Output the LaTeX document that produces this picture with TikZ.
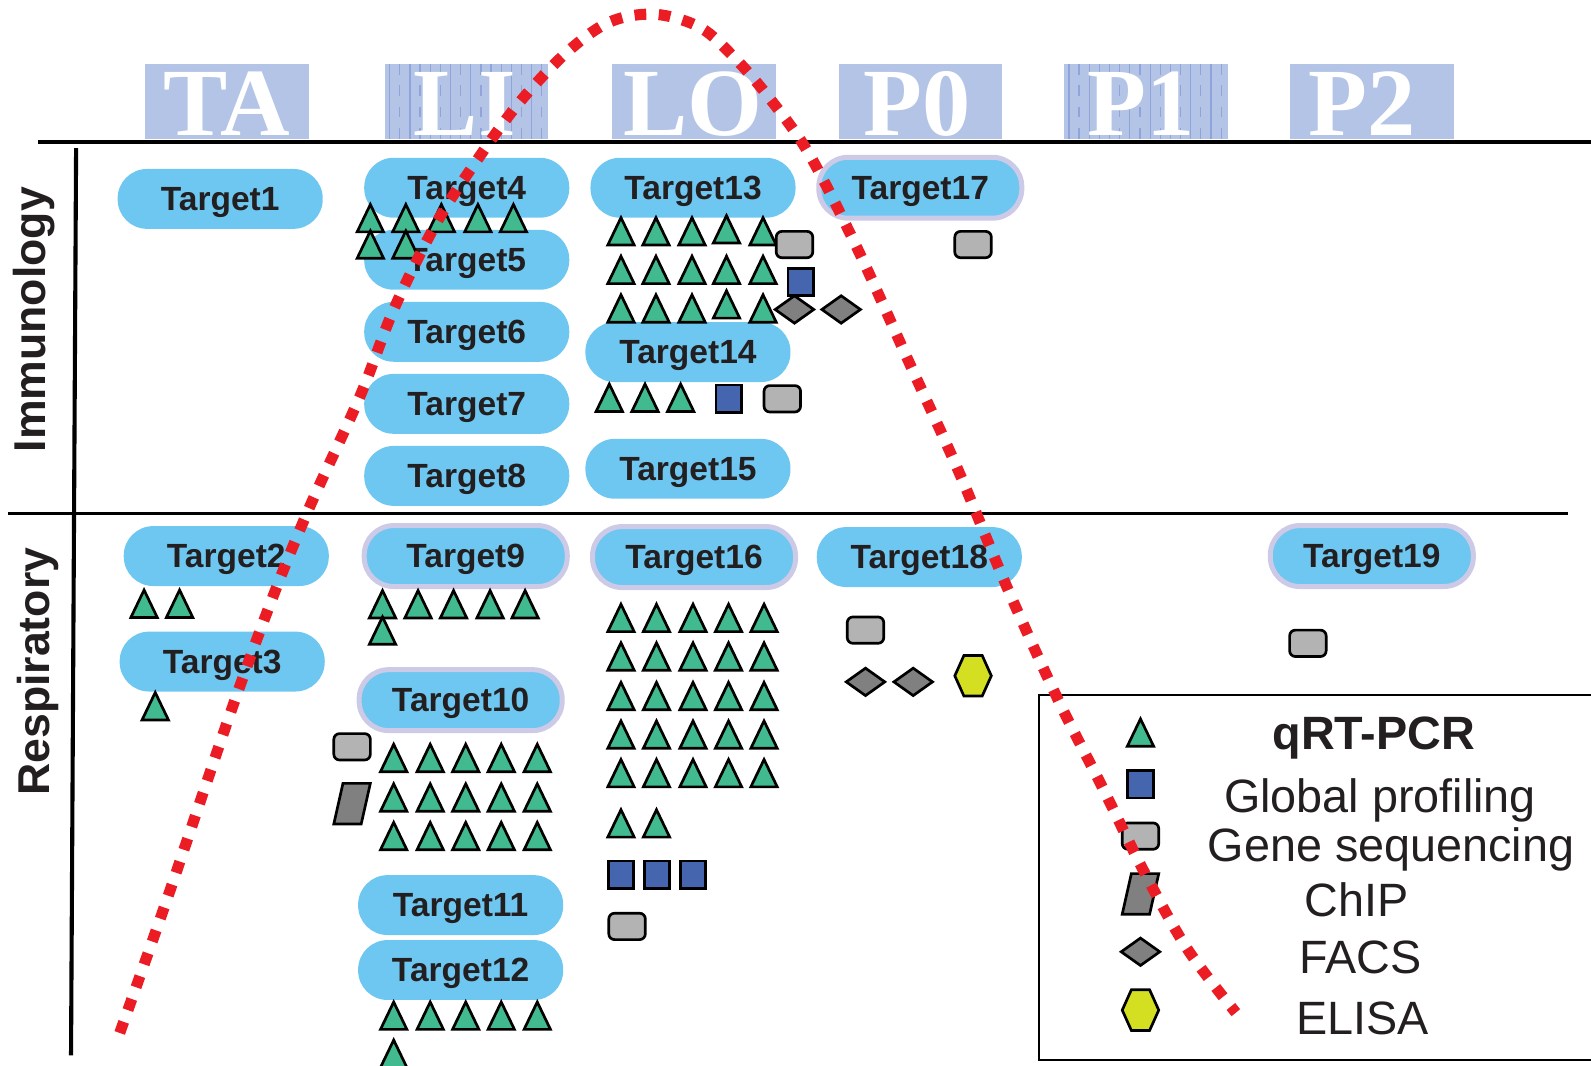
\documentclass[tikz,border=0pt]{standalone}
\usepackage{fontspec}
\setmainfont{Liberation Sans}
\newfontfamily\hdrfont{Liberation Serif}
\definecolor{pillblue}{HTML}{6EC7F0}
\definecolor{pillring}{HTML}{CCCAE6}
\definecolor{hdrblue}{HTML}{B3C4E6}
\definecolor{stripecol}{HTML}{8EA4DA}
\definecolor{txtcol}{HTML}{231F20}
\definecolor{trigreen}{HTML}{41BA8F}
\definecolor{sqblue}{HTML}{4565AF}
\definecolor{seqgray}{HTML}{B3B3B3}
\definecolor{facsgray}{HTML}{808080}
\definecolor{hexyellow}{HTML}{D4DF21}
\definecolor{curvered}{HTML}{EC1C24}
\tikzset{
  pill/.style={rectangle, rounded corners=2.9mm, fill=pillblue, minimum width=2.02cm,
    minimum height=0.59cm, inner sep=0pt, text depth=0pt, text=txtcol, font=\fontsize{9.4}{10}\selectfont\bfseries},
  ringpill/.style={pill, draw=pillring, line width=1.4pt, minimum width=2.0cm, minimum height=0.60cm},
  hdrbox/.style={rectangle, fill=hdrblue, minimum width=1.61cm, minimum height=0.74cm, inner sep=0pt},
  hdrtxt/.style={text=white, inner sep=0pt, font=\hdrfont\bfseries\fontsize{27}{27}\selectfont},
  axislab/.style={rotate=90, anchor=base, inner sep=0pt, text=txtcol, font=\fontsize{12.5}{13}\selectfont\bfseries},
  legtxt/.style={anchor=base, inner sep=0pt, text=txtcol, font=\fontsize{13.1}{14}\selectfont},
  stripeline/.style={draw=stripecol, line width=0.35pt},
  mk/.style={draw=black, line width=0.75pt, line join=miter},
  pics/tri/.style={code={\path[mk, fill=trigreen] (-13,13.5) -- (13,13.5) -- (0,-13.5) -- cycle;}},
  pics/glob/.style={code={\path[mk, fill=sqblue] (-12.5,-13.5) rectangle (12.5,13.5);}},
  pics/seq/.style={code={\path[mk, fill=seqgray, rounded corners=1.6pt] (-18,-13) rectangle (18,13);}},
  pics/facs/.style={code={\path[mk, fill=facsgray] (-19,0) -- (0,-13.5) -- (19,0) -- (0,13.5) -- cycle;}},
  pics/chip/.style={code={\path[mk, fill=facsgray] (-9,-20) -- (18,-20) -- (9,20) -- (-18,20) -- cycle;}},
  pics/elisa/.style={code={\path[mk, fill=hexyellow] (-18,0) -- (-9,-20) -- (9,-20) -- (18,0) -- (9,20) -- (-9,20) -- cycle;}},
  curve/.style={draw=curvered, line width=3.1pt, line cap=butt, dash pattern=on 3.3pt off 3.5pt}
}
\begin{document}
\begin{tikzpicture}[x=0.01cm, y=-0.01cm]
\useasboundingbox (0,0) rectangle (1568,1050);
\clip (0,0) rectangle (1568,1050);

% header boxes
\foreach \n/\cx in {hTA/223.5, hLI/460, hLO/684, hPZ/907, hPO/1129.5, hPT/1352}
  \node[hdrbox] (\n) at (\cx,100) {};
\foreach \cx in {460,1129.5}{
  \foreach \i in {0,2,...,14} \draw[stripeline] (\cx-76+\i*10,63) -- (\cx-76+\i*10,137);
  \foreach \i in {1,3,...,15} \draw[stripeline, dashed] (\cx-76+\i*10,63) -- (\cx-76+\i*10,137);
}
\foreach \n/\cx/\lab in {hTA/223.5/TA, hLI/458/LI, hLO/683/LO, hPZ/904/P0, hPO/1125/P1, hPT/1342/P2}
  \node[hdrtxt, anchor=base] (\n-t) at (\cx,134) {\lab};

% axes
\coordinate (topL) at (37,140);
\coordinate (topR) at (1570,140);
\draw[line width=1.15pt] (topL) -- (topR);
\coordinate (vTop) at (75,146);
\coordinate (vBot) at (70,1040);
\draw[line width=1.15pt] (vTop) -- (vBot);
\coordinate (divL) at (8,506);
\coordinate (divR) at (1545,506);
\draw[line width=0.6pt] (divL) -- (divR);

\node[axislab] (imm) at (45,315) {Immunology};
\node[axislab] (resp) at (49,662) {Respiratory};

% pills
\node[pill] (t1) at (217,196) {Target1};
\node[pill] (t4) at (460,185) {Target4};
\node[pill] (t5) at (460,256) {Target5};
\node[pill] (t6) at (460,327) {Target6};
\node[pill] (t7) at (460,398) {Target7};
\node[pill] (t8) at (460,469) {Target8};
\node[pill] (t13) at (683,185) {Target13};
\node[pill] (t14) at (678,347) {Target14};
\node[pill] (t15) at (678,462) {Target15};
\node[ringpill] (t17) at (907,185) {Target17};
\node[pill] (t2) at (223,548) {Target2};
\node[pill] (t3) at (219,652) {Target3};
\node[ringpill] (t9) at (459,548) {Target9};
\node[ringpill] (t10) at (454,690) {Target10};
\node[pill] (t11) at (454,892) {Target11};
\node[pill] (t12) at (454,956) {Target12};
\node[ringpill] (t16) at (684,549) {Target16};
\node[pill] (t18) at (906,549) {Target18};
\node[ringpill] (t19) at (1352,548) {Target19};

% Target4
\foreach \x in {365,400,435,471,506} \pic at (\x,215) {tri};
\foreach \x in {365,400} \pic at (\x,241) {tri};
% Target13
\foreach \x in {612,646.5,682,752} \pic at (\x,228) {tri};
\pic at (716,226) {tri};
\foreach \x in {612,646.5,682,716,752} \pic at (\x,266) {tri};
\foreach \x in {612,646.5,682,752} \pic at (\x,304) {tri};
\pic at (716,300) {tri};
\pic at (783,241) {seq};
\pic at (789,278) {glob};
\pic at (783,305) {facs};
\pic at (829,305) {facs};
% Target17
\pic at (959,241) {seq};
% Target14
\foreach \x in {600.5,635.7,670.8} \pic at (\x,392) {tri};
\pic at (718,393) {glob};
\pic at (771,393) {seq};
% Target2, Target3
\foreach \x in {142,177} \pic at (\x,595) {tri};
\pic at (153,696) {tri};
% Target9
\foreach \x in {377,412,447,483,517.5} \pic at (\x,595.5) {tri};
\pic at (377,621.5) {tri};
% Target10
\pic at (347,736) {seq};
\pic at (347,792) {chip};
\foreach \y in {747,786,824}
  \foreach \x in {388,424,459,494,529.5} \pic at (\x,\y) {tri};
% Target12
\foreach \x in {388,424,459,494,529.5} \pic at (\x,1001) {tri};
\pic at (388,1038.5) {tri};
% Target16
\foreach \y in {609,647,686,724,762}
  \foreach \x in {612,647,683,718,753} \pic at (\x,\y) {tri};
\foreach \x in {612,647} \pic at (\x,811.5) {tri};
\foreach \x in {612,647.5,683} \pic at (\x,862) {glob};
\pic at (618,913) {seq};
% Target18
\pic at (853,621) {seq};
\pic at (853,672) {facs};
\pic at (900,672) {facs};
\pic at (959,666) {elisa};
% Target19
\pic at (1289,634) {seq};

% legend
\coordinate (legNW) at (1024,685);
\coordinate (legSE) at (1590,1045);
\draw[line width=0.6pt] (legNW) rectangle (legSE);
\pic at (1124,722) {tri};
\pic at (1124,773) {glob};
\pic at (1124,824) {seq};
\pic at (1124,881) {chip};
\pic at (1124,938) {facs};
\pic at (1124,995.5) {elisa};
\node[legtxt, font=\fontsize{13.1}{14}\selectfont\bfseries] (lq) at (1354,739) {qRT-PCR};
\node[legtxt] (lg) at (1360,801) {Global profiling};
\node[legtxt] (ls) at (1371,849) {Gene sequencing};
\node[legtxt] (lc) at (1337,903) {ChIP};
\node[legtxt] (lf) at (1341,959) {FACS};
\node[legtxt] (le) at (1343,1020) {ELISA};

% red dotted curve
\draw[curve] plot[smooth, tension=0.55] coordinates {
 (118,1018) (165,885) (228,700) (269,588) (305,500) (355,390) (388,305) (430,220)
 (470,158) (511,102) (557,53) (600,22) (645,14) (690,27) (724,57) (757,95) (797,151)
 (845,245) (895,355) (945,465) (993,580) (1043,690) (1086,775) (1128,860) (1170,935) (1218,998)};
\end{tikzpicture}
\end{document}
